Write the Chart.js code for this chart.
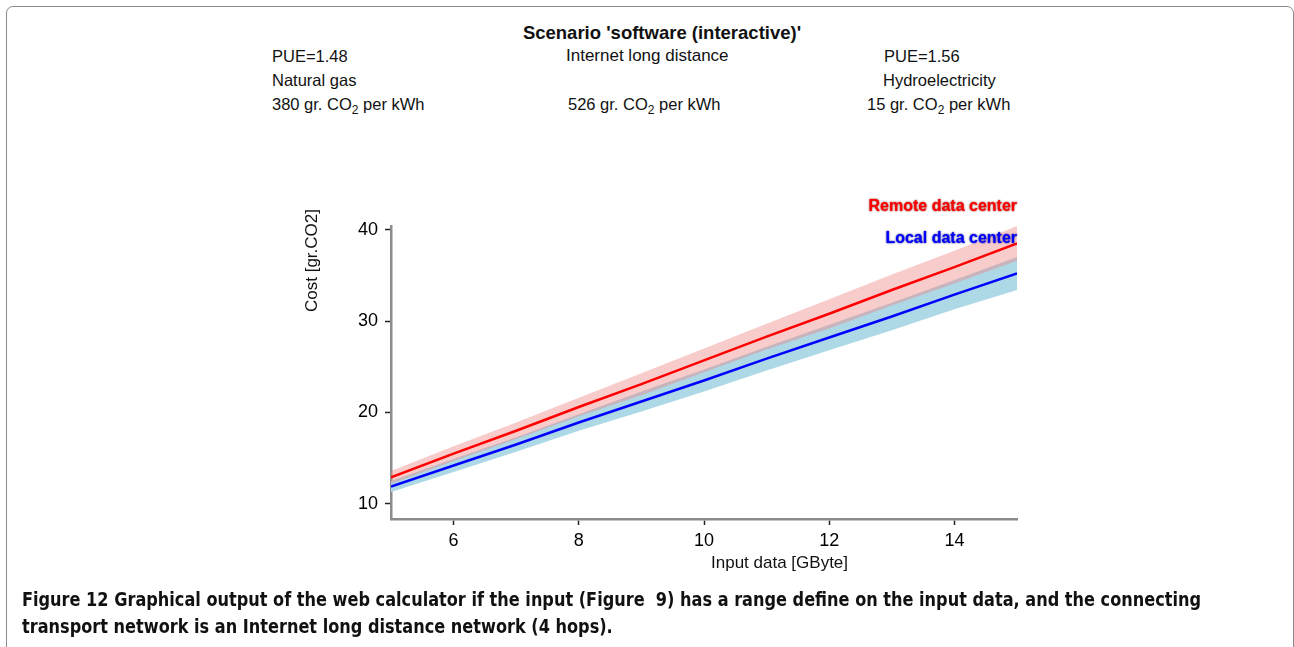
<!DOCTYPE html>
<html>
<head>
<meta charset="utf-8">
<script src="https://cdn.jsdelivr.net/npm/chart.js@4.4.1/dist/chart.umd.min.js"></script>
<style>
  html, body { margin: 0; padding: 0; background: #fff; }
  body { width: 1294px; height: 647px; position: relative; overflow: hidden; font-family: "Liberation Sans", Arial, sans-serif; color: #111; }
  #frame { position: absolute; left: 6px; top: 6px; width: 1286px; height: 700px; border: 1px solid #8a8a8a; border-radius: 7px; }
  .t { position: absolute; font-size: 16.5px; line-height: 20px; white-space: nowrap; }
  .t sub { font-size: 12px; vertical-align: -4px; line-height: 0; }
  #title { font-weight: bold; font-size: 18.5px; left: 412px; width: 500px; text-align: center; top: 23px; }
  #chart { position: absolute; left: 0; top: 0; }
  .cap { position: absolute; left: 22px; font-family: "Liberation Sans Narrow", "DejaVu Sans Condensed", "Liberation Sans", sans-serif; font-weight: bold; font-size: 20px; line-height: 24px; white-space: nowrap; transform-origin: 0 0; color: #111; }
  #ytitle { position: absolute; font-size: 17px; white-space: nowrap; transform-origin: 0 0; transform: rotate(-90deg); }
</style>
</head>
<body>
<div id="frame"></div>
<div class="t" id="title">Scenario 'software (interactive)'</div>

<div class="t" style="left:272px; top:46px;">PUE=1.48</div>
<div class="t" style="left:272px; top:70px;">Natural gas</div>
<div class="t" style="left:272px; top:94px;">380 gr. CO<sub>2</sub> per kWh</div>

<div class="t" style="left:566px; top:46px; font-size:17px;">Internet long distance</div>
<div class="t" style="left:568px; top:94px;">526 gr. CO<sub>2</sub> per kWh</div>

<div class="t" style="left:884px; top:46px;">PUE=1.56</div>
<div class="t" style="left:883px; top:70px;">Hydroelectricity</div>
<div class="t" style="left:867px; top:94px;">15 gr. CO<sub>2</sub> per kWh</div>

<canvas id="chart" width="1294" height="647"></canvas>

<div id="ytitle" style="left:302px; top:312px;">Cost [gr.CO2]</div>
<div class="t" style="left:711px; top:553px; font-size:17px;">Input data [GByte]</div>

<div class="cap" id="cap1">Figure 12 Graphical output of the web calculator if the input (Figure&nbsp; 9) has a range define on the input data, and the connecting</div>
<div class="cap" id="cap2">transport network is an Internet long distance network (4 hops).</div>

<script>
// input data [GByte]
var inputData = [5, 6, 7, 8, 9, 10, 11, 12, 13, 14, 15];

// cost [gr.CO2]
var remoteCost  = [12.9, 15.5, 18.0, 20.6, 23.1, 25.7, 28.3, 30.8, 33.4, 35.9, 38.5];
var remoteUpper = [13.6, 16.3, 18.9, 21.6, 24.3, 27.0, 29.7, 32.4, 35.1, 37.7, 40.4];
var remoteLower = [12.2, 14.7, 17.1, 19.6, 21.9, 24.4, 26.9, 29.2, 31.7, 34.1, 36.6];

var localCost  = [11.9, 14.2, 16.5, 18.9, 21.2, 23.5, 25.9, 28.2, 30.5, 32.9, 35.2];
var localUpper = [12.5, 14.9, 17.3, 19.8, 22.3, 24.7, 27.2, 29.6, 32.0, 34.5, 37.0];
var localLower = [11.3, 13.5, 15.7, 18.0, 20.1, 22.3, 24.6, 26.8, 29.0, 31.3, 33.4];

var xTicks = [6, 8, 10, 12, 14];
var yTicks = [10, 20, 30, 40];

function pts(ys) {
    return inputData.map(function(x, i) { return {x: x, y: ys[i]}; });
}

function band(ys, fill, bg) {
    return {
        data: pts(ys),
        borderWidth: 0,
        borderColor: "rgba(0,0,0,0)",
        backgroundColor: bg,
        pointRadius: 0,
        fill: fill
    };
}

// draws the two series names at the top right of the plot
var labelPlugin = {
    id: "seriesLabels",
    afterDraw: function(chart) {
        var ctx = chart.ctx;
        var area = chart.chartArea;
        var rows = [
            {text: chart.data.datasets[0].label, color: "#ff0000", shadow: "#800000", y: 207},
            {text: chart.data.datasets[1].label, color: "#0000ff", shadow: "#000080", y: 239}
        ];
        ctx.save();
        ctx.font = "bold 16px 'Liberation Sans', Arial, sans-serif";
        ctx.textAlign = "right";
        ctx.textBaseline = "middle";
        rows.forEach(function(r) {
            ctx.shadowColor = r.shadow;
            ctx.shadowBlur = 2;
            ctx.fillStyle = r.color;
            ctx.fillText(r.text, area.right, r.y);
        });
        ctx.restore();
    }
};

var tickFont = {family: "'Liberation Sans', Arial, sans-serif", size: 18};

var chart = new Chart(document.getElementById("chart"), {
    type: "line",
    data: {
        datasets: [
            {label: "Remote data center", data: pts(remoteCost), borderColor: "#ff0000", borderWidth: 2.5, pointRadius: 0, fill: false},
            {label: "Local data center", data: pts(localCost), borderColor: "#0000ff", borderWidth: 2.5, pointRadius: 0, fill: false},
            band(remoteUpper, "+1", "rgba(240,128,128,0.4)"),
            band(remoteLower, false, "rgba(0,0,0,0)"),
            band(localUpper, "+1", "rgb(173,216,230)"),
            band(localLower, false, "rgba(0,0,0,0)")
        ]
    },
    plugins: [labelPlugin],
    options: {
        responsive: false,
        animation: false,
        layout: {
            padding: {left: 300, right: 277, top: 226, bottom: 88}
        },
        plugins: {
            legend: {display: false},
            tooltip: {enabled: false}
        },
        scales: {
            x: {
                type: "linear",
                min: 5,
                max: 15,
                afterBuildTicks: function(scale) {
                    scale.ticks = xTicks.map(function(v) { return {value: v}; });
                },
                afterFit: function(scale) { scale.height = 40; },
                border: {display: true, color: "#8c8c8c", width: 2.5},
                grid: {drawOnChartArea: false, drawTicks: true, tickLength: 6, tickColor: "#222", tickWidth: 1.5},
                ticks: {color: "#000", padding: 5, font: tickFont}
            },
            y: {
                type: "linear",
                min: 8.35,
                max: 40.4,
                afterBuildTicks: function(scale) {
                    scale.ticks = yTicks.map(function(v) { return {value: v}; });
                },
                afterFit: function(scale) { scale.width = 91; },
                border: {display: true, color: "#8c8c8c", width: 2.5},
                grid: {drawOnChartArea: false, drawTicks: true, tickLength: 6, tickColor: "#222", tickWidth: 1.5},
                ticks: {color: "#000", padding: 7, font: tickFont}
            }
        }
    }
});

// squeeze the caption to the width it has in the figure
var cap1 = document.getElementById("cap1");
var cap2 = document.getElementById("cap2");
var k = 1179 / cap1.getBoundingClientRect().width;
[cap1, cap2].forEach(function(el, i) {
    el.style.top = (i === 0 ? 587 : 614) + "px";
    el.style.transform = "scaleX(" + k + ")";
});
</script>
</body>
</html>
